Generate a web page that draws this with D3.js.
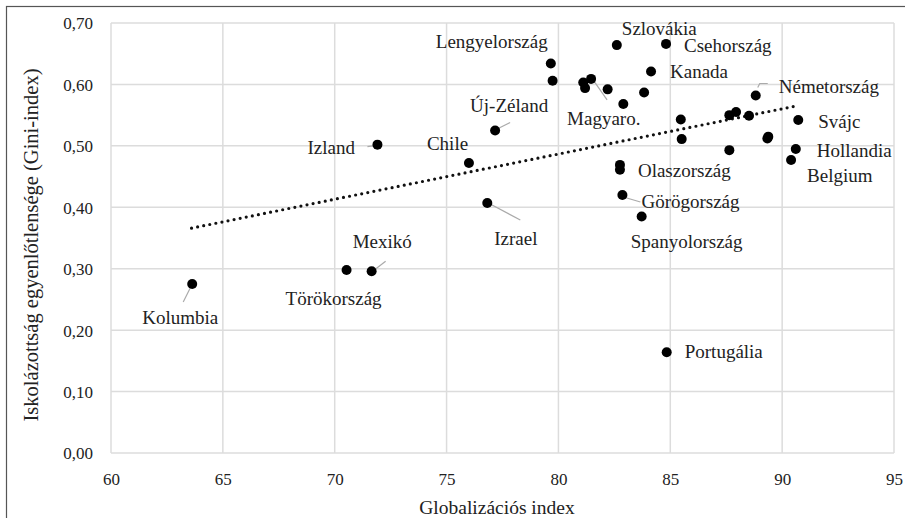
<!DOCTYPE html>
<html><head><meta charset="utf-8">
<script src="https://cdn.jsdelivr.net/npm/d3@7/dist/d3.min.js"></script>
<style>
html,body{margin:0;padding:0;background:#fff;}
svg{display:block;}
text{font-family:"Liberation Serif","Times New Roman",Tinos,"DejaVu Serif","Noto Serif",serif;fill:#222;}
</style></head>
<body>
<svg id="chart" width="905" height="518"></svg>
<script>
// ---- data ----
const countries = ["Kolumbia","Törökország","Mexikó","Izland","Chile","Izrael","Új-Zéland",
  "Lengyelország","Lengyelország-2","Magyaro.","HU-2","HU-3","HU-4","HU-5","HU-6",
  "Szlovákia","Csehország","Kanada","Olaszország","Olaszország-2","Görögország","Spanyolország","Portugália",
  "P-855a","P-855b","P-876a","P-876b","P-879","P-885","Németország","P-894a","P-894b","Svájc","Hollandia","Belgium"];
const globalization = [63.63,70.53,71.65,71.91,76.00,76.82,77.17,
  79.66,79.74,81.46,81.11,81.19,82.20,82.90,83.83,
  82.61,84.81,84.14,82.75,82.75,82.86,83.72,84.84,
  85.47,85.51,87.64,87.64,87.94,88.52,88.82,89.38,89.34,90.72,90.61,90.40];
const gini = [0.275,0.298,0.296,0.502,0.472,0.407,0.525,
  0.634,0.606,0.609,0.603,0.594,0.592,0.568,0.587,
  0.664,0.666,0.621,0.469,0.461,0.420,0.385,0.164,
  0.543,0.511,0.493,0.550,0.555,0.549,0.582,0.515,0.512,0.542,0.495,0.477];
const trendX = [63.6, 90.5];
const trendY = [0.366, 0.564];
const xTicks = [60,65,70,75,80,85,90,95];
const yTicks = [0,0.1,0.2,0.3,0.4,0.5,0.6,0.7];
const xTitle = "Globalizációs index";
const yTitle = "Iskolázottság egyenlőtlensége (Gini-index)";

// label annotations: [country, dx, dy (text anchor rel. to point), leader polyline rel. to point or null]
const labelLayout = [
  ["Kolumbia",-50,40,[-2,4,-9,18]],
  ["Törökország",-61,35,null],
  ["Mexikó",-19,-23,[1,0,14,-10]],
  ["Izland",-70,9,[-10,2,-3,1]],
  ["Chile",-42,-13,null],
  ["Izrael",7,42,[1,0,33,17]],
  ["Új-Zéland",-25,-19,[3,-2,15,-8]],
  ["Lengyelország",-115,-16,null],
  ["Magyaro.",-24,46,[2,1,16,21]],
  ["Szlovákia",5,-10,null],
  ["Csehország",18,8,null],
  ["Kanada",19,6,null],
  ["Olaszország",18,12,null],
  ["Görögország",19,13,[1,2,18,7]],
  ["Spanyolország",-11,31,null],
  ["Portugália",18,6,null],
  ["Németország",23,-2,[2,-8,4,-12,12,-12]],
  ["Svájc",20,8,null],
  ["Hollandia",21,8,null],
  ["Belgium",16,22,null]
];

// ---- layout ----
const FONT = '"Liberation Serif","Times New Roman",Tinos,"DejaVu Serif","Noto Serif",serif';
const svg = d3.select("#chart");
const m = {left:111, right:894, top:23, bottom:453};
const x = d3.scaleLinear().domain([60,95]).range([m.left,m.right]);
const y = d3.scaleLinear().domain([0,0.7]).range([m.bottom,m.top]);
const fmt = v => d3.format(".2f")(v).replace(".", ",");

// frame
svg.append("rect").attr("x",6.5).attr("y",6.5).attr("width",1000).attr("height",1000)
  .attr("fill","none").attr("stroke","#555").attr("stroke-width",1.2);

// grid
const g = svg.append("g");
g.selectAll("line.vx").data(xTicks).join("line")
  .attr("x1",d=>x(d)).attr("x2",d=>x(d)).attr("y1",m.top).attr("y2",m.bottom)
  .attr("stroke","#dcdcdc").attr("stroke-width",1.5);
g.selectAll("line.hy").data(yTicks).join("line")
  .attr("y1",d=>y(d)).attr("y2",d=>y(d)).attr("x1",m.left).attr("x2",m.right)
  .attr("stroke","#dcdcdc").attr("stroke-width",1.5);

// axes (labels only)
const xa = svg.append("g").attr("transform",`translate(0,${m.bottom})`)
  .call(d3.axisBottom(x).tickValues(xTicks).tickSize(0).tickPadding(0).tickFormat(d=>d));
xa.attr("font-family",FONT);
xa.select(".domain").remove();
xa.selectAll("text").attr("dy",null).attr("y",32).style("font-size","17px")
  .style("font-family",FONT).attr("fill","#222");
const ya = svg.append("g").attr("transform",`translate(${m.left},0)`)
  .call(d3.axisLeft(y).tickValues(yTicks).tickSize(0).tickPadding(0).tickFormat(fmt));
ya.attr("font-family",FONT);
ya.select(".domain").remove();
ya.selectAll("text").attr("x",-18).attr("dy","0.35em").style("font-size","17px")
  .style("font-family",FONT).attr("fill","#222");

// titles
svg.append("text").attr("x",497).attr("y",514).attr("text-anchor","middle")
  .style("font-size","19.5px").style("font-family",FONT).text(xTitle);
svg.append("text").attr("transform","translate(38,245) rotate(-90)").attr("text-anchor","middle")
  .style("font-size","20.5px").style("font-family",FONT).text(yTitle);

// trend line
svg.append("line")
  .attr("x1",x(trendX[0])).attr("y1",y(trendY[0])).attr("x2",x(trendX[1])).attr("y2",y(trendY[1]))
  .attr("stroke","#111").attr("stroke-width",3.2).attr("stroke-linecap","round")
  .attr("stroke-dasharray","0 6.2");

// leader lines
const idx = name => countries.indexOf(name);
labelLayout.forEach(([name,dx,dy,leader])=>{
  const i = idx(name);
  const px = x(globalization[i]), py = y(gini[i]);
  if (leader){
    const pts = [];
    for (let k=0;k<leader.length;k+=2) pts.push([px+leader[k], py+leader[k+1]]);
    svg.append("path").attr("d", d3.line()(pts)).attr("fill","none")
      .attr("stroke","#aaa").attr("stroke-width",1.2);
  }
});

// points
svg.selectAll("circle.pt").data(countries).join("circle")
  .attr("cx",(d,i)=>x(globalization[i])).attr("cy",(d,i)=>y(gini[i]))
  .attr("r",5).attr("fill","#000");

// labels
labelLayout.forEach(([name,dx,dy])=>{
  const i = idx(name);
  const px = x(globalization[i]), py = y(gini[i]);
  svg.append("text").attr("x",px+dx).attr("y",py+dy)
    .style("font-size","19px").style("font-family",FONT).text(name);
});
</script>
</body></html>
